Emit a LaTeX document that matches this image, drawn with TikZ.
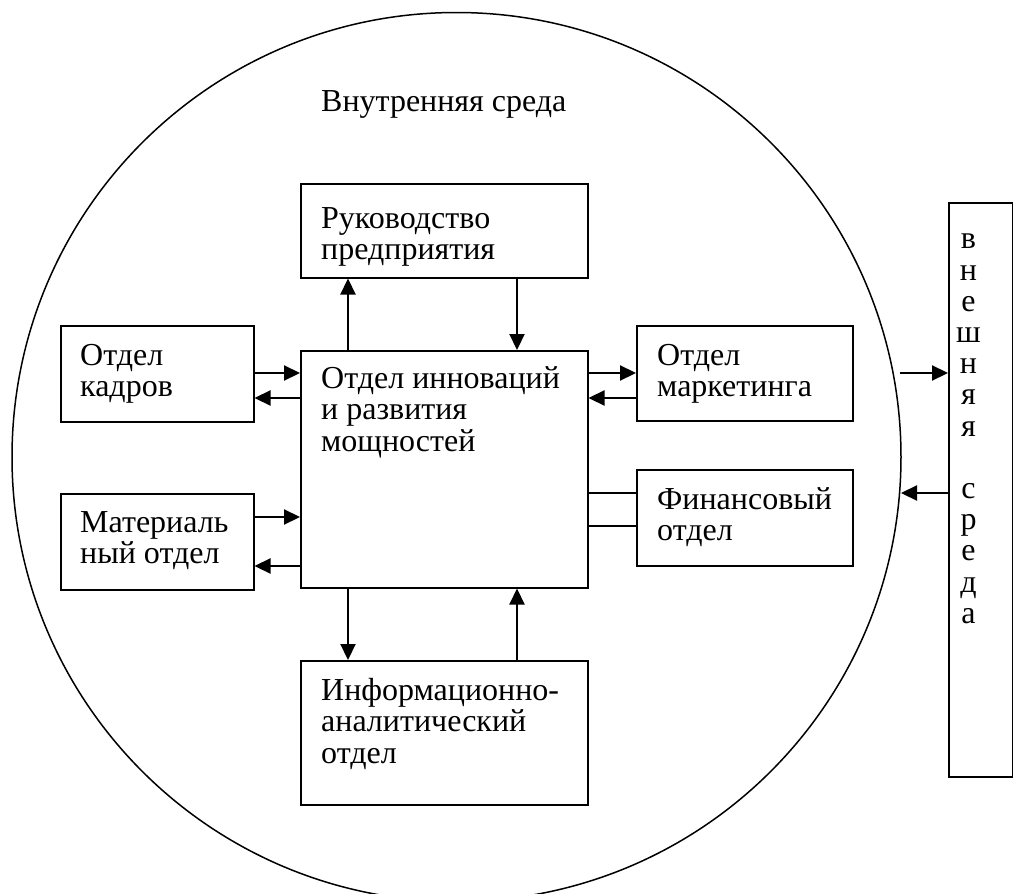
\documentclass[tikz,border=0pt]{standalone}
\usepackage{fontspec}
\setmainfont{Liberation Serif}
\usetikzlibrary{arrows.meta}

\begin{document}
\begin{tikzpicture}[x=1pt,y=-1pt,
  box/.style={draw, line width=1.5pt, inner sep=0pt, anchor=north west},
  label/.style={anchor=north west, inner sep=0pt, align=left,
    font=\fontsize{32}{31.5}\selectfont},
  arr/.style={-{Triangle[length=16pt,width=15pt]}, line width=2.2pt},
  link/.style={line width=1.5pt}]

\clip (0,0) rectangle (1013,894);

% outer boundary: internal environment
\node[circle, draw, line width=1.5pt, minimum size=889pt, inner sep=0pt] (env) at (456.5,457) {};
\node[label] (envT) at (321,90) {Внутренняя среда};

% departments
\node[box, minimum width=287pt, minimum height=94pt]  (ruk)  at (300,183) {};
\node[box, minimum width=287pt, minimum height=237pt] (cen)  at (300,350) {};
\node[box, minimum width=193pt, minimum height=96pt]  (kadr) at (60,325)  {};
\node[box, minimum width=193pt, minimum height=96pt]  (mat)  at (60,493)  {};
\node[box, minimum width=216pt, minimum height=95pt]  (mark) at (636,325) {};
\node[box, minimum width=216pt, minimum height=96pt]  (fin)  at (636,469) {};
\node[box, minimum width=287pt, minimum height=144pt] (info) at (300,660) {};
\node[box, minimum width=64pt,  minimum height=574pt] (ext)  at (948,202) {};

% captions
\node[label] (rukT)  at (321,207) {Руководство\\предприятия};
\node[label] (cenT)  at (321,366) {Отдел инноваций\\и развития\\мощностей};
\node[label] (kadrT) at (80,344)  {Отдел\\кадров};
\node[label] (matT)  at (80,511)  {Материаль\\ный отдел};
\node[label] (markT) at (657,344) {Отдел\\маркетинга};
\node[label] (finT)  at (657,487) {Финансовый\\отдел};
\node[label] (infoT) at (321,678) {Информационно-\\аналитический\\отдел};
\node[label, align=center, font=\fontsize{32}{31.2}\selectfont] (extT) at (956,234)
  {в\\н\\е\\ш\\н\\я\\я\\\mbox{}\\с\\р\\е\\д\\а};

% guide positions for the connectors
\coordinate (xa) at (348,0);
\coordinate (xb) at (517,0);
\coordinate (ya) at (0,373);
\coordinate (yb) at (0,398);
\coordinate (yc) at (0,517);
\coordinate (yd) at (0,566);
\coordinate (ye) at (0,493);
\coordinate (yf) at (0,526);
\coordinate (outA) at (900,373);
\coordinate (inB)  at (901,493);

% vertical links
\draw[arr] (xa |- cen.north) -- (xa |- ruk.south);
\draw[arr] (xb |- ruk.south) -- (xb |- cen.north);
\draw[arr] (xa |- cen.south) -- (xa |- info.north);
\draw[arr] (xb |- info.north) -- (xb |- cen.south);

% horizontal links
\draw[arr] (kadr.east |- ya) -- (cen.west |- ya);
\draw[arr] (cen.west |- yb) -- (kadr.east |- yb);
\draw[arr] (mat.east |- yc) -- (cen.west |- yc);
\draw[arr] (cen.west |- yd) -- (mat.east |- yd);
\draw[arr] (cen.east |- ya) -- (mark.west |- ya);
\draw[arr] (mark.west |- yb) -- (cen.east |- yb);
\draw[link] (cen.east |- ye) -- (fin.west |- ye);
\draw[link] (cen.east |- yf) -- (fin.west |- yf);

% exchange with the external environment
\draw[arr] (outA) -- (ext.west |- outA);
\draw[arr] (ext.west |- inB) -- (inB);
\end{tikzpicture}
\end{document}
